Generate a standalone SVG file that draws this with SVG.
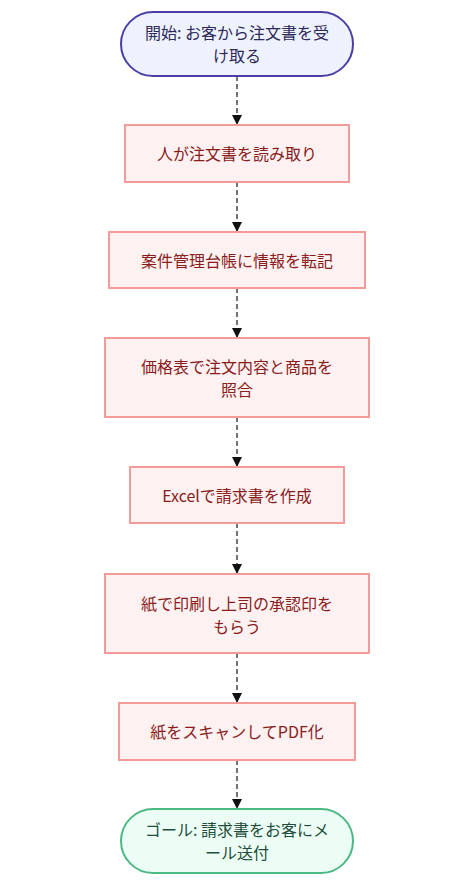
<svg xmlns="http://www.w3.org/2000/svg" width="473" height="881" viewBox="0 0 473 881">
<style>
text{font-family:"Noto Sans CJK JP","Noto Sans",sans-serif;font-size:16px;text-anchor:middle;dominant-baseline:central}
.proc rect{fill:#fdf1f1;stroke:#f29b99;stroke-width:2}
.proc text{fill:#8a1c1c}
.start rect{fill:#eef2ff;stroke:#4b3fa6;stroke-width:2}
.start text{fill:#2e2a5a}
.end rect{fill:#ecfdf5;stroke:#4cb884;stroke-width:2}
.end text{fill:#1f4f3c}
.edge{stroke:#444;stroke-width:1.5;stroke-dasharray:5 3;fill:none}
</style>
<defs>
<marker id="ah" markerWidth="10" markerHeight="10" refX="9" refY="5" orient="auto" markerUnits="userSpaceOnUse">
<path d="M0,0 L10,5 L0,10 z" fill="#111"/>
</marker>
</defs>
<rect width="473" height="881" fill="#ffffff"/>
<g id="edges">
<line class="edge" x1="237" y1="76" x2="237" y2="124" marker-end="url(#ah)"/>
<line class="edge" x1="237" y1="182" x2="237" y2="231" marker-end="url(#ah)"/>
<line class="edge" x1="237" y1="288" x2="237" y2="337" marker-end="url(#ah)"/>
<line class="edge" x1="237" y1="417" x2="237" y2="466" marker-end="url(#ah)"/>
<line class="edge" x1="237" y1="523" x2="237" y2="573" marker-end="url(#ah)"/>
<line class="edge" x1="237" y1="653" x2="237" y2="702" marker-end="url(#ah)"/>
<line class="edge" x1="237" y1="760" x2="237" y2="808" marker-end="url(#ah)"/>
</g>
<g id="start" class="start">
<rect x="121" y="12" width="232" height="64" rx="32" ry="32"/>
<text x="237" y="32">開始: お客から注文書を受</text>
<text x="237" y="55">け取る</text>
</g>
<g id="n1" class="proc">
<rect x="125" y="125" width="224" height="57"/>
<text x="237" y="153">人が注文書を読み取り</text>
</g>
<g id="n2" class="proc">
<rect x="109" y="232" width="256" height="56"/>
<text x="237" y="260">案件管理台帳に情報を転記</text>
</g>
<g id="n3" class="proc">
<rect x="105" y="338" width="264" height="79"/>
<text x="237" y="366">価格表で注文内容と商品を</text>
<text x="237" y="389">照合</text>
</g>
<g id="n4" class="proc">
<rect x="130" y="467" width="214" height="56"/>
<text x="237" y="495">Excelで請求書を作成</text>
</g>
<g id="n5" class="proc">
<rect x="105" y="574" width="264" height="79"/>
<text x="237" y="603">紙で印刷し上司の承認印を</text>
<text x="237" y="626">もらう</text>
</g>
<g id="n6" class="proc">
<rect x="119" y="703" width="236" height="57"/>
<text x="237" y="731">紙をスキャンしてPDF化</text>
</g>
<g id="end" class="end">
<rect x="121" y="809" width="232" height="64" rx="32" ry="32"/>
<text x="237" y="829">ゴール: 請求書をお客にメ</text>
<text x="237" y="852">ール送付</text>
</g>
</svg>
